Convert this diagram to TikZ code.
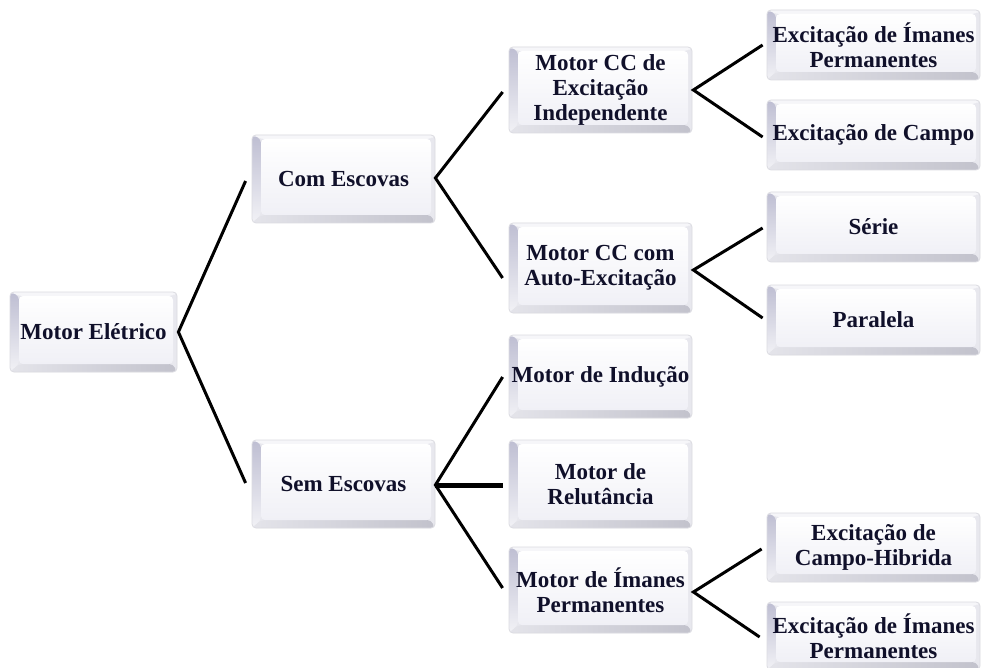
\documentclass[tikz,border=0pt]{standalone}
\usepackage{fontspec}
\setmainfont{Liberation Serif}
\usetikzlibrary{calc}
\definecolor{txt}{HTML}{10102A}
\definecolor{bevedge}{HTML}{DCDCE2}
\definecolor{bevleftA}{HTML}{BEBED2}
\definecolor{bevleftB}{HTML}{F2F2F6}
\definecolor{bevbotA}{HTML}{E4E4EA}
\definecolor{bevbotB}{HTML}{C2C2CC}
\definecolor{bevright}{HTML}{E8E8EE}
\definecolor{bevtop}{HTML}{F6F6F9}
\definecolor{faceB}{HTML}{F0F0F6}
\tikzset{
  bev/.style={rounded corners=4pt, draw=bevedge, line width=0.8pt, fill=bevright,
    align=center, inner sep=0pt, text=txt,
    font=\fontsize{23}{25}\selectfont\bfseries,
    path picture={
      \fill[bevtop] (path picture bounding box.north west) -- (path picture bounding box.north east)
        -- ([shift={(-4pt,-4pt)}]path picture bounding box.north east)
        -- ([shift={(9pt,-4pt)}]path picture bounding box.north west) -- cycle;
      \shade[top color=bevleftA, bottom color=bevleftB]
        (path picture bounding box.south west) -- (path picture bounding box.north west)
        -- ([shift={(9pt,-4pt)}]path picture bounding box.north west)
        -- ([shift={(9pt,8pt)}]path picture bounding box.south west) -- cycle;
      \shade[left color=bevbotA, right color=bevbotB]
        (path picture bounding box.south west) -- (path picture bounding box.south east)
        -- ([shift={(-4pt,8pt)}]path picture bounding box.south east)
        -- ([shift={(9pt,8pt)}]path picture bounding box.south west) -- cycle;
      \shade[top color=white, bottom color=faceB]
        ([shift={(9pt,8pt)}]path picture bounding box.south west)
        rectangle ([shift={(-4pt,-4pt)}]path picture bounding box.north east);
    }},
  lv0/.style={bev, minimum width=167pt, minimum height=80pt},
  lv1/.style={bev, minimum width=183pt, minimum height=88pt},
  lv2/.style={bev, minimum width=183pt},
  lv3/.style={bev, minimum width=213pt, minimum height=70pt},
  conn/.style={line width=3pt, black, line join=miter},
  connthick/.style={line width=5pt, black}
}
\begin{document}
\begin{tikzpicture}[x=1pt,y=-1pt]
\useasboundingbox (0,0) rectangle (982,668);
\fill[white] (0,0) rectangle (982,668);

\node[lv0] (me) at (93.5,332) {Motor Elétrico};
\node[lv1] (com) at (343.5,179) {Com Escovas};
\node[lv1] (sem) at (343.5,484) {Sem Escovas};

\node[lv2, minimum height=86pt] (cci) at (600.5,90) {Motor CC de\\Excitação\\Independente};
\node[lv2, minimum height=90pt] (cca) at (600.5,268) {Motor CC com\\Auto-Excitação};
\node[lv2, minimum height=83pt] (ind) at (600.5,376.5) {Motor de Indução};
\node[lv2, minimum height=88pt] (rel) at (600.5,484) {Motor de\\Relutância};
\node[lv2, minimum height=86pt] (mip) at (600.5,590) {Motor de Ímanes\\Permanentes};

\node[lv3] (r1) at (873.5,45) {Excitação de Ímanes\\Permanentes};
\node[lv3] (r2) at (873.5,135) {Excitação de Campo};
\node[lv3] (r3) at (873.5,227) {Série};
\node[lv3] (r4) at (873.5,320) {Paralela};
\node[lv3, minimum height=69pt] (r5) at (873.5,547.5) {Excitação de\\Campo-Hibrida};
\node[lv3, minimum height=68pt] (r6) at (873.5,636) {Excitação de Ímanes\\Permanentes};

% connectors
\draw[conn] ($(com.west)+(-6,2)$) -- ($(me.east)+(1,0)$) -- ($(sem.west)+(-6,-1)$);
\draw[conn] ($(cci.west)+(-6,2)$) -- ($(com.east)+(0,-1)$) -- ($(cca.west)+(-6,10)$);
\draw[conn] ($(ind.west)+(-6,0.5)$) -- ($(sem.east)+(0,1)$) -- ($(mip.west)+(-6,-2)$);
\draw[connthick] ($(sem.east)+(0,1)$) -- ($(rel.west)+(-6,1)$);
\draw[conn] ($(r1.west)+(-4,0)$) -- ($(cci.east)+(1,0)$) -- ($(r2.west)+(-4,2)$);
\draw[conn] ($(r3.west)+(-4,1)$) -- ($(cca.east)+(1,2)$) -- ($(r4.west)+(-4,-2)$);
\draw[conn] ($(r5.west)+(-5,1.5)$) -- ($(mip.east)+(1,2)$) -- ($(r6.west)+(-7,1)$);
\end{tikzpicture}
\end{document}
